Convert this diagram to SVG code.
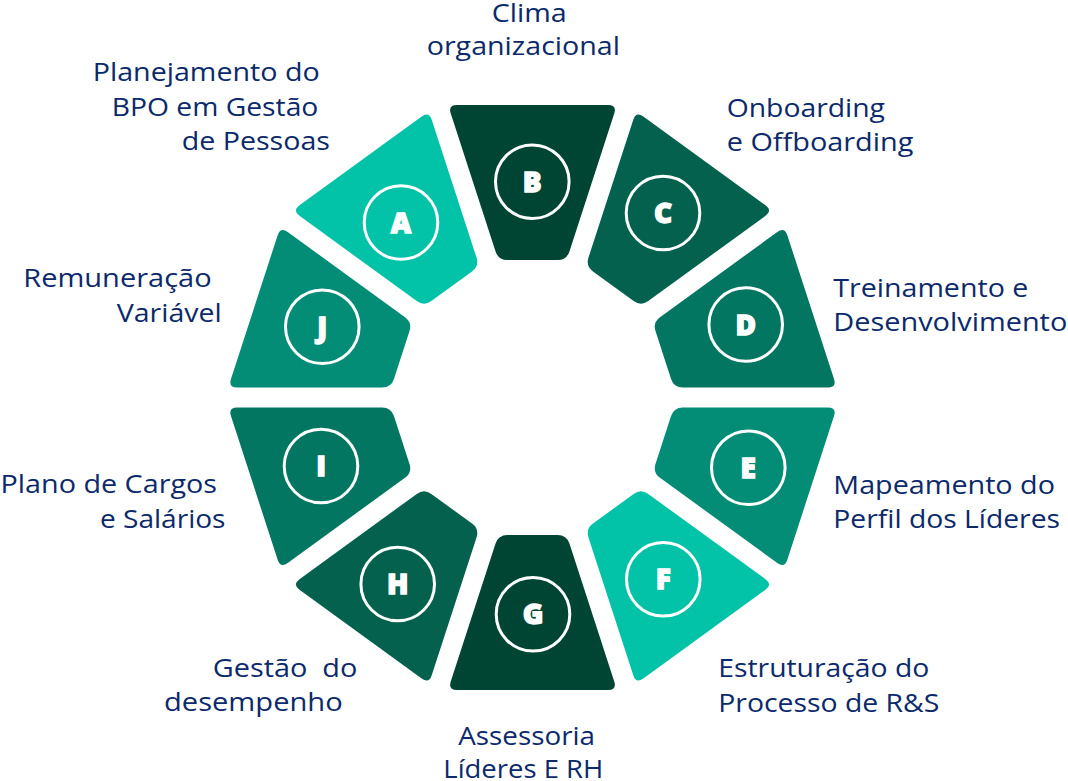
<svg xmlns="http://www.w3.org/2000/svg" xmlns:xlink="http://www.w3.org/1999/xlink" width="1068" height="781" viewBox="0 0 1068 781">
  <style>
    .lbl { font-family: "Open Sans", "Liberation Sans", sans-serif; font-size: 25.5px; fill: #0c2a6b; }
    .ltr { font-family: "Open Sans", "Liberation Sans", sans-serif; font-size: 28px; font-weight: 800; fill: #ffffff; stroke: #ffffff; stroke-width: 1.3; text-anchor: middle; }
    .ring { fill: none; stroke: #ffffff; stroke-width: 3; }
  </style>
  <defs>
    <path id="seg" d="M -75.52 -292.5 L 75.52 -292.5 Q 84.52 -292.5 81.74 -283.94 L 36.94 -146.06 Q 34.16 -137.5 25.16 -137.5 L -25.16 -137.5 Q -34.16 -137.5 -36.94 -146.06 L -81.74 -283.94 Q -84.52 -292.5 -75.52 -292.5 Z"/>
  </defs>
  <rect width="1068" height="781" fill="#ffffff"/>
  <g id="connectors"/>

  <g id="node-A">
    <use xlink:href="#seg" href="#seg" transform="translate(532.5 397.5) rotate(-36)" fill="#02c2a8"/>
    <circle class="ring" cx="401" cy="222.5" r="36.8"/>
    <text class="ltr" x="401" y="232.5">A</text>
    <text class="lbl" x="92.7" y="81" textLength="227" lengthAdjust="spacingAndGlyphs">Planejamento do</text>
    <text class="lbl" x="111.7" y="115.5" textLength="206.7" lengthAdjust="spacingAndGlyphs">BPO em Gestão</text>
    <text class="lbl" x="181.7" y="150" textLength="148.3" lengthAdjust="spacingAndGlyphs">de Pessoas</text>
  </g>

  <g id="node-B">
    <use xlink:href="#seg" href="#seg" transform="translate(532.5 397.5)" fill="#004434"/>
    <circle class="ring" cx="532.3" cy="181.7" r="36.8"/>
    <text class="ltr" x="532.3" y="191.7">B</text>
    <text class="lbl" x="491.7" y="21.5" textLength="75" lengthAdjust="spacingAndGlyphs">Clima</text>
    <text class="lbl" x="426.7" y="55" textLength="193.3" lengthAdjust="spacingAndGlyphs">organizacional</text>
  </g>

  <g id="node-C">
    <use xlink:href="#seg" href="#seg" transform="translate(532.5 397.5) rotate(36)" fill="#03614e"/>
    <circle class="ring" cx="663" cy="213" r="36.8"/>
    <text class="ltr" x="663" y="223">C</text>
    <text class="lbl" x="726.7" y="116.7" textLength="158.3" lengthAdjust="spacingAndGlyphs">Onboarding</text>
    <text class="lbl" x="726.7" y="150.5" textLength="186.7" lengthAdjust="spacingAndGlyphs">e Offboarding</text>
  </g>

  <g id="node-D">
    <use xlink:href="#seg" href="#seg" transform="translate(532.5 397.5) rotate(72)" fill="#037662"/>
    <circle class="ring" cx="745.7" cy="324.5" r="36.8"/>
    <text class="ltr" x="745.7" y="334.5">D</text>
    <text class="lbl" x="833.3" y="296.7" textLength="195" lengthAdjust="spacingAndGlyphs">Treinamento e</text>
    <text class="lbl" x="833.3" y="331" textLength="234" lengthAdjust="spacingAndGlyphs">Desenvolvimento</text>
  </g>

  <g id="node-E">
    <use xlink:href="#seg" href="#seg" transform="translate(532.5 397.5) rotate(108)" fill="#038c76"/>
    <circle class="ring" cx="748.3" cy="467.7" r="36.8"/>
    <text class="ltr" x="748.3" y="477.7">E</text>
    <text class="lbl" x="833.3" y="493.5" textLength="221.7" lengthAdjust="spacingAndGlyphs">Mapeamento do</text>
    <text class="lbl" x="833.3" y="528.3" textLength="226.7" lengthAdjust="spacingAndGlyphs">Perfil dos Líderes</text>
  </g>

  <g id="node-F">
    <use xlink:href="#seg" href="#seg" transform="translate(532.5 397.5) rotate(144)" fill="#02c2a8"/>
    <circle class="ring" cx="663.3" cy="579.3" r="36.8"/>
    <text class="ltr" x="663.3" y="589.3">F</text>
    <text class="lbl" x="718.3" y="676.7" textLength="211" lengthAdjust="spacingAndGlyphs">Estruturação do</text>
    <text class="lbl" x="718.3" y="711.5" textLength="221" lengthAdjust="spacingAndGlyphs">Processo de R&amp;S</text>
  </g>

  <g id="node-G">
    <use xlink:href="#seg" href="#seg" transform="translate(532.5 397.5) rotate(180)" fill="#004434"/>
    <circle class="ring" cx="533" cy="614.3" r="36.8"/>
    <text class="ltr" x="533" y="624.3">G</text>
    <text class="lbl" x="458.3" y="745" textLength="136.7" lengthAdjust="spacingAndGlyphs">Assessoria</text>
    <text class="lbl" x="443.3" y="778" textLength="160" lengthAdjust="spacingAndGlyphs">Líderes E RH</text>
  </g>

  <g id="node-H">
    <use xlink:href="#seg" href="#seg" transform="translate(532.5 397.5) rotate(216)" fill="#03614e"/>
    <circle class="ring" cx="397.7" cy="584" r="36.8"/>
    <text class="ltr" x="397.7" y="594">H</text>
    <text class="lbl" x="212.7" y="676.7" textLength="144.7" lengthAdjust="spacingAndGlyphs" xml:space="preserve">Gestão  do</text>
    <text class="lbl" x="164" y="710.7" textLength="178.7" lengthAdjust="spacingAndGlyphs">desempenho</text>
  </g>

  <g id="node-I">
    <use xlink:href="#seg" href="#seg" transform="translate(532.5 397.5) rotate(252)" fill="#037662"/>
    <circle class="ring" cx="321" cy="466" r="36.8"/>
    <text class="ltr" x="321" y="476">I</text>
    <text class="lbl" x="0.5" y="493.3" textLength="216.5" lengthAdjust="spacingAndGlyphs">Plano de Cargos</text>
    <text class="lbl" x="100" y="528.3" textLength="125.5" lengthAdjust="spacingAndGlyphs">e Salários</text>
  </g>

  <g id="node-J">
    <use xlink:href="#seg" href="#seg" transform="translate(532.5 397.5) rotate(288)" fill="#038c76"/>
    <circle class="ring" cx="322.3" cy="326.7" r="36.8"/>
    <text class="ltr" x="322.3" y="336.7">J</text>
    <text class="lbl" x="23.3" y="287.3" textLength="188.3" lengthAdjust="spacingAndGlyphs">Remuneração</text>
    <text class="lbl" x="116.7" y="321.7" textLength="105" lengthAdjust="spacingAndGlyphs">Variável</text>
  </g>
</svg>
